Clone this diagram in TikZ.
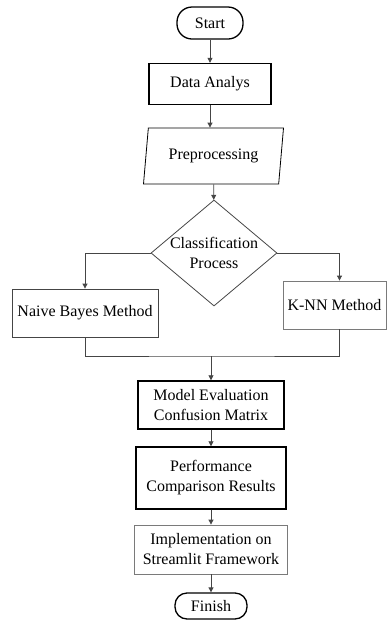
\documentclass[tikz,border=0pt]{standalone}
\usepackage{fontspec}
\setmainfont{Liberation Serif}
\usetikzlibrary{shapes.geometric,arrows.meta}
\definecolor{linegray}{HTML}{454545}
\definecolor{boxgray}{HTML}{7A7A7A}
\tikzset{
  base/.style={align=center, font=\fontsize{16}{20}\selectfont, inner sep=2pt},
  term/.style={base, draw, line width=1.3pt, minimum width=66pt, minimum height=32pt, rounded corners=15pt},
  procthick/.style={base, draw, line width=1.4pt, rectangle},
  procthin/.style={base, draw=boxgray, line width=0.8pt, rectangle},
  iobox/.style={base, draw, line width=0.8pt, trapezium, trapezium left angle=75, trapezium right angle=105, trapezium stretches body, minimum width=140pt, minimum height=56pt},
  decide/.style={base, draw=linegray, line width=0.8pt, diamond, aspect=1.19, inner sep=0pt, minimum width=126pt, minimum height=106pt},
  arr/.style={draw=linegray, line width=0.8pt, -{Triangle[length=5pt,width=5pt]}},
  conn/.style={draw=linegray, line width=0.8pt}
}
\begin{document}
\begin{tikzpicture}[x=1pt, y=-1pt]
\useasboundingbox (0,0) rectangle (387,622);
\node[term] (start) at (210,23){Start};
\node[procthick, minimum width=122pt, minimum height=41pt] (data) at (210,84){Data Analys};
\node[iobox] (prep) at (213.5,156){Preprocessing};
\node[decide] (cls) at (214,253){Classification\\Process};
\node[procthin, draw=linegray, minimum width=146pt, minimum height=48pt] (nb) at (85,313){Naive Bayes Method};
\node[procthin, minimum width=103pt, minimum height=48pt] (knn) at (334.5,305){K-NN Method};
\coordinate (join) at (211,356);
\node[procthick, minimum width=146pt, minimum height=48pt] (eval) at (211,405){Model Evaluation\\Confusion Matrix};
\node[procthick, minimum width=150pt, minimum height=62pt] (perf) at (211,478){Performance\\Comparison Results};
\node[procthin, minimum width=153pt, minimum height=49pt] (impl) at (211,549.5){Implementation on\\Streamlit Framework};
\node[term, minimum width=72pt, minimum height=26pt, rounded corners=12pt] (finish) at (211,606){Finish};
\draw[arr] (start) -- (data);
\draw[arr] (data.south) -- (data.south |- prep.north);
\draw[arr] (prep) -- (cls);
\draw[arr] (cls.west) -| (nb.north);
\draw[arr] (cls.east) -| ([xshift=5pt]knn.north);
\draw[conn] (nb.south) |- (join) -| ([xshift=5pt]knn.south);
\draw[arr] (join) -- (eval);
\draw[arr] (eval) -- (perf);
\draw[arr] (perf) -- (impl);
\draw[arr] (impl) -- (finish);
\end{tikzpicture}
\end{document}
